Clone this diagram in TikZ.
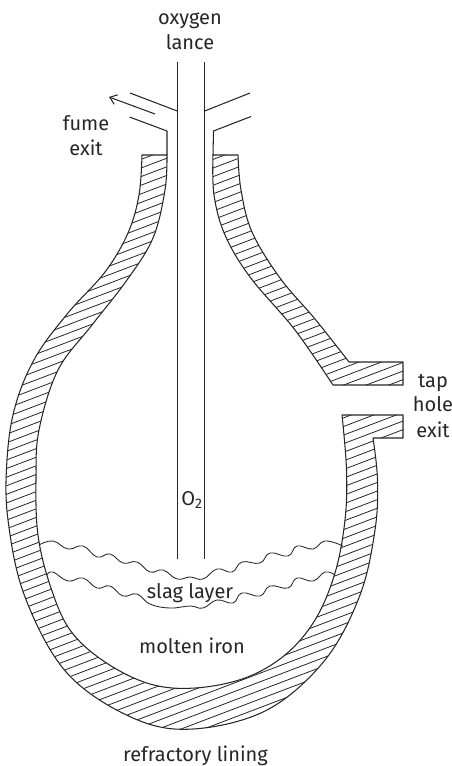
\documentclass[tikz,border=0pt]{standalone}
\usepackage{fontspec}
\setmainfont{Fira Sans}
\usetikzlibrary{arrows.meta}
\tikzset{
  wall/.style={line width=1.05pt,line join=round,black!85},
  hatch/.style={line width=0.8pt,black!85},
  wave/.style={line width=0.85pt,black!85,smooth,tension=0.75},
  label/.style={font=\fontsize{20}{22}\selectfont,text=black!85,inner sep=0pt,anchor=base},
}
% main lining: left top, outer wall round the bottom, up to the tap hole, back along the inner wall
\def\mainlining{
  (142,155) -- plot[smooth,tension=0.6] coordinates {(142,155) (139,195) (128,233) (105,272) (68,313) (35,358) (15,407) (7,460) (8,520) (25,597) (67,673) (133,718) (193,729) (267,710) (325,660) (360,595) (375,530) (377.5,480) (373,438)}
  -- (403,438) -- (403,415) -- (342,415)
  -- plot[smooth,tension=0.6] coordinates {(342,415) (346.5,470) (345,520) (335,573) (315,620) (285,655) (245,678) (195,688) (150,684) (105,662) (70,630) (50,585) (38,535) (36,480) (39,430) (58,370) (92,325) (127,280) (153,238) (165,190) (167,155)}
  -- cycle
}
\def\upperlining{
  (213,155) -- plot[smooth,tension=0.6] coordinates {(213,155) (214,195) (225,235) (250,277) (295,330) (333,385)}
  -- (403,385) -- (403,362) -- (349,362)
  -- plot[smooth,tension=0.6] coordinates {(349,362) (315,319) (280,278) (252,232) (241,190) (238,155)}
  -- cycle
}
\newcommand{\hatchlines}[2]{%
  \foreach \k in {0,...,#2}{
    \pgfmathsetmacro{\cc}{#1+8.6*\k}
    \pgfmathsetmacro{\dd}{\cc-0.38*452}
    \draw[hatch] (0,\cc) -- (452,\dd);
  }}
\begin{document}
\begin{tikzpicture}[x=1pt,y=-1pt]
\useasboundingbox (0,0) rectangle (452,766);
\begin{scope}
  \clip \mainlining;
  \hatchlines{213}{80}
\end{scope}
\begin{scope}
  \clip \upperlining;
  \hatchlines{240.4}{50}
\end{scope}
\draw[wall] \mainlining;
\draw[wall] \upperlining;
% lance
\draw[wall] (177.3,62) -- (177.3,559);
\draw[wall] (204.7,62) -- (204.7,559);
% flue
\draw[wall] (130,93) -- (177.3,111);
\draw[wall] (129.5,117) -- (167,131) -- (167,155);
\draw[wall] (250,93) -- (204.7,111);
\draw[wall] (251,116.5) -- (213.5,131) -- (213,155);
\coordinate (fumestart) at (155,114);
\coordinate (fumeend) at (109,97);
\draw[wall,-{Straight Barb[length=6.5pt,width=10pt]}] (fumestart) -- (fumeend);
% slag layer surfaces
\draw[wave] plot coordinates {(39,545) (53,541) (68,549) (83,546) (97,557) (110,554) (123,563) (137,562) (150,572) (163,570) (177,579) (190,577) (203,579) (217,569) (232,572) (242,562) (260,563) (270,553) (288,556) (297,546) (313,549) (325,541) (343,546)};
\draw[wave] plot coordinates {(47,575) (53,572) (68,581) (83,578) (97,588) (110,586) (123,596) (137,594) (150,604) (170,608) (190,606) (203,608) (217,600) (233,603) (242,593) (260,596) (270,586) (288,588) (297,578) (313,581) (325,572) (335,575)};
% labels
\node[label] (oxygen) at (190,24) {oxygen};
\node[label] (lance) at (190,49) {lance};
\node[label] (fume) at (86,130) {fume};
\node[label] (fexit) at (86,155.5) {exit};
\node[label] (tap) at (433,387) {tap};
\node[label] (hole) at (433,411.5) {hole};
\node[label] (texit) at (433,437) {exit};
\node[label] (otwo) at (192,505) {O\textsubscript{2}};
\node[label] (slag) at (190,598) {slag layer};
\node[label] (iron) at (192,653) {molten iron};
\node[label] (lining) at (195.5,761) {refractory lining};
\end{tikzpicture}
\end{document}
